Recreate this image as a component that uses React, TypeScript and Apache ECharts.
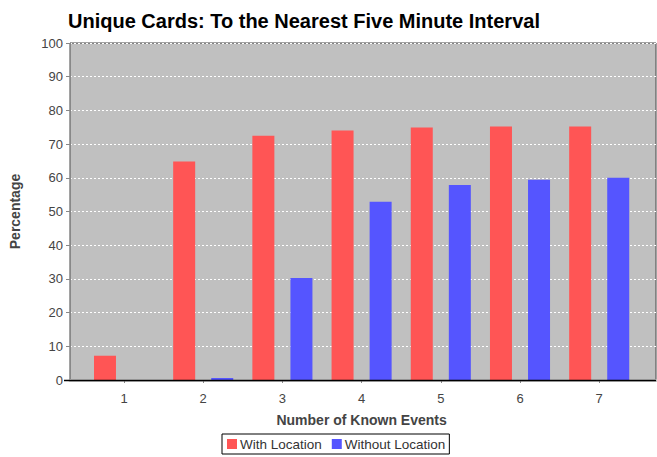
import React, { useEffect, useRef } from "react";
import * as echarts from "echarts";

const categories = ["1", "2", "3", "4", "5", "6", "7"];
const withLocation = [7.2, 64.8, 72.5, 74.0, 74.9, 75.2, 75.2];
const withoutLocation = [0, 0.6, 30.3, 52.9, 57.9, 59.4, 60.0];
const yTicks = { min: 0, max: 100, interval: 10 };

const FONT = "Liberation Sans, Arial, sans-serif";

export default function App() {
  const ref = useRef<HTMLDivElement>(null);
  useEffect(() => {
    if (!ref.current) return;
    const chart = echarts.init(ref.current, undefined, { renderer: "svg" });
    chart.setOption({
      animation: false,
      textStyle: { fontFamily: FONT },
      title: {
        text: "Unique Cards: To the Nearest Five Minute Interval",
        left: 68,
        top: 11,
        padding: 0,
        textStyle: { fontSize: 20, fontWeight: "bold", color: "#000", fontFamily: FONT },
      },
      grid: [
        {
          left: 64, top: 43, width: 592, height: 337,
          show: true, backgroundColor: "#c0c0c0", borderColor: "#444", borderWidth: 1,
        },
        { left: 84.4, top: 43, width: 554.4, height: 337 },
      ],
      xAxis: [
        {
          gridIndex: 0, type: "value", min: 0, max: 1, offset: 5,
          axisLine: { show: true, lineStyle: { color: "#c4c4c4", width: 3 } },
          axisTick: { show: false }, axisLabel: { show: false }, splitLine: { show: false },
        },
        {
          gridIndex: 1, type: "category", data: categories, offset: 5,
          axisLine: { show: false },
          axisTick: { show: true, alignWithLabel: true, length: 3, lineStyle: { color: "#888" } },
          axisLabel: { color: "#444", fontSize: 13, margin: 7, fontFamily: FONT },
          name: "Number of Known Events",
          nameLocation: "middle",
          nameGap: 28,
          nameTextStyle: { fontSize: 14, fontWeight: "bold", color: "#444", fontFamily: FONT },
        },
      ],
      yAxis: [
        {
          gridIndex: 0, type: "value", ...yTicks, offset: 4,
          axisLine: { show: true, lineStyle: { color: "#888" } },
          axisTick: { show: true, length: 4, lineStyle: { color: "#888" } },
          axisLabel: { color: "#444", fontSize: 13, margin: 3, fontFamily: FONT },
          splitLine: { show: true, lineStyle: { color: "#ffffff", type: [2, 2], width: 1 } },
          name: "Percentage",
          nameLocation: "middle",
          nameGap: 44,
          nameTextStyle: { fontSize: 14, fontWeight: "bold", color: "#444", fontFamily: FONT },
        },
        {
          gridIndex: 1, type: "value", ...yTicks, show: false,
          splitLine: { show: false },
        },
      ],
      legend: {
        left: 222, top: 434,
        orient: "horizontal",
        icon: "rect",
        itemWidth: 10, itemHeight: 10, itemGap: 10,
        padding: [3, 4, 3, 5],
        borderColor: "#000", borderWidth: 1,
        textStyle: { fontSize: 13.5, color: "#333", fontFamily: FONT, padding: [0, 0, 0, -2] },
        data: ["With Location", "Without Location"],
      },
      graphic: [
        {
          type: "line",
          shape: { x1: 64, y1: 380.5, x2: 656, y2: 380.5 },
          style: { stroke: "#000", lineWidth: 1.5 },
          z: 100,
        },
      ],
      series: [
        {
          name: "With Location", type: "bar", xAxisIndex: 1, yAxisIndex: 1,
          data: withLocation, barWidth: 22, barGap: "73%",
          itemStyle: { color: "#ff5555" },
        },
        {
          name: "Without Location", type: "bar", xAxisIndex: 1, yAxisIndex: 1,
          data: withoutLocation, barWidth: 22, barGap: "73%",
          itemStyle: { color: "#5555ff" },
        },
      ],
    });
    return () => chart.dispose();
  }, []);
  return (
    <div
      ref={ref}
      style={{ position: "fixed", left: 0, top: 0, width: 657, height: 457, background: "#fff" }}
    />
  );
}
